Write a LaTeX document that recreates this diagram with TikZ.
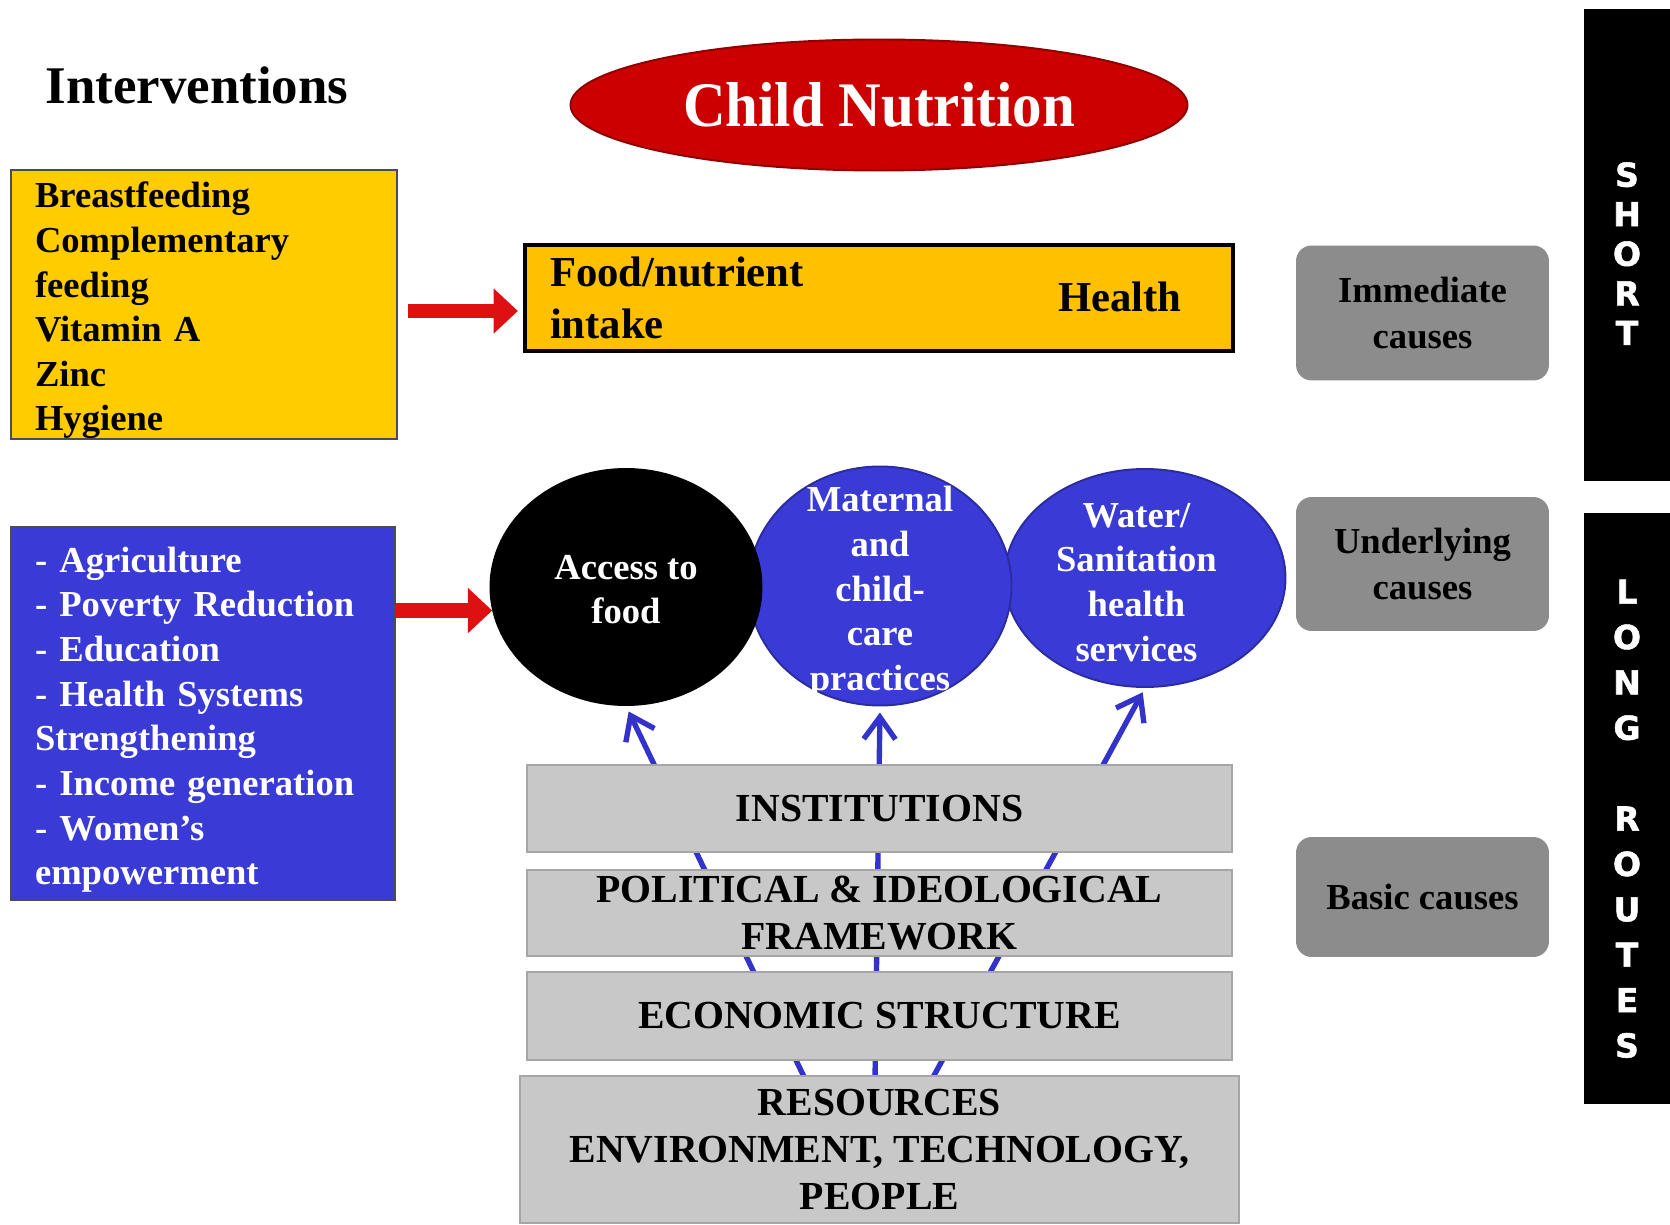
\documentclass[tikz,border=0pt]{standalone}
\usepackage{fontspec}
\usepackage{graphicx}
\setmainfont{Liberation Serif}
\newfontfamily\barfont[BoldFeatures={FakeBold=1.6}]{DejaVu Sans}
\usetikzlibrary{shapes.geometric,arrows.meta}
\newlength\pxu
\setlength\pxu{0.0144cm}
\definecolor{boxyellow}{HTML}{FFCC00}
\definecolor{foodyellow}{HTML}{FFC000}
\definecolor{ivblue}{HTML}{3A3AD6}
\definecolor{causegray}{HTML}{8C8C8C}
\definecolor{bargray}{HTML}{C8C8C8}
\definecolor{titlered}{HTML}{CC0000}
\definecolor{arrowred}{HTML}{DD1111}
\definecolor{linkblue}{HTML}{3333CC}

\begin{document}
\begin{tikzpicture}[x=0.0144cm, y=-0.0144cm,
  ivbox/.style={draw=black!70, line width=0.8pt, align=left, inner xsep=24*\pxu, inner ysep=0pt, text height=15.5pt, font=\bfseries\fontsize{15}{18.3}\selectfont},
  cause/.style={draw=black!45, fill=causegray, line width=0.8pt, rounded corners=6pt, minimum width=251*\pxu, align=center, font=\bfseries\fontsize{15}{18.5}\selectfont},
  route/.style={fill=black, minimum width=86*\pxu},
  routetext/.style={text=white, align=center, font=\barfont\bfseries\fontsize{13.5}{#1}\selectfont},
  factor/.style={ellipse, draw=#1!75!black, fill=#1, line width=0.8pt, inner sep=0pt},
  factortext/.style={text=white, align=center, font=\bfseries\fontsize{15}{18.3}\selectfont},
  layer/.style={draw=black!35, fill=bargray, line width=0.8pt, minimum width=705*\pxu, align=center, inner ysep=0pt, font=\bfseries\fontsize{16.3}{19.3}\selectfont},
  redarrow/.style={draw=arrowred, line width=6pt, -{Triangle[length=10pt,width=18pt]}},
  uparrow/.style={draw=linkblue, line width=2.2pt, -{Straight Barb[length=9pt,width=13pt]}}
]
\useasboundingbox (0,0) rectangle (1670,1225);

\node[font=\bfseries\fontsize{21.7}{24}\selectfont] (title) at (197,85) {Interventions};
\node[ellipse, fill=titlered, draw=titlered!70!black, line width=0.8pt, minimum width=617*\pxu, minimum height=131*\pxu, inner sep=0pt, text=white, font=\bfseries\fontsize{26}{28}\selectfont] (child) at (879,105) {\scalebox{0.93}[1]{Child Nutrition}};

\node[ivbox, fill=boxyellow, text width=338*\pxu, minimum height=269*\pxu] (micro) at (204,304.5) {Breastfeeding\\Complementary\\feeding\\Vitamin A\\Zinc\\Hygiene};
\node[draw=black, line width=1.8pt, fill=foodyellow, minimum height=106*\pxu, text width=658*\pxu, inner xsep=25*\pxu, align=left, font=\bfseries\fontsize{17.5}{21.3}\selectfont] (food) at (879,298) {Food/nutrient\\intake};
\node[anchor=east, inner sep=0pt, font=\bfseries\fontsize{17.5}{21.3}\selectfont] (health) at (1182,297) {Health};
\draw[redarrow, shorten <=4pt, shorten >=2pt] ([yshift=-6.5*\pxu]micro.east) -- ([yshift=-6.5*\pxu]micro.east -| food.west);

\node[cause, minimum height=133*\pxu] (immediate) at (1422.5,313) {Immediate\\causes};
\node[cause, minimum height=132*\pxu] (underlying) at (1422.5,564) {Underlying\\causes};
\node[cause, minimum height=118*\pxu] (basic) at (1422.5,897) {Basic causes};

\node[route, minimum height=472*\pxu, label={[routetext=16.2pt, name=shorttext, yshift=-3.5pt]center:S\\H\\O\\R\\T}] (short) at (1627,245) {};
\node[route, minimum height=591*\pxu, label={[routetext=18.6pt, name=longtext, yshift=-4.2pt]center:L\\O\\N\\G\\[18.6pt]R\\O\\U\\T\\E\\S}] (long) at (1627,808.5) {};

\node[ivbox, fill=ivblue, text=white, text width=336*\pxu, minimum height=373*\pxu] (policy) at (203,713.5) {- Agriculture\\- Poverty Reduction\\- Education\\- Health Systems\\Strengthening\\- Income generation\\- Women’s\\empowerment};

\node[factor=ivblue, minimum width=281*\pxu, minimum height=218*\pxu, label={[factortext, name=watertext, xshift=-3.5pt, yshift=-1.8pt]center:Water/\\Sanitation\\health\\services}] (water) at (1145,578) {};
\node[factor=ivblue, minimum width=263*\pxu, minimum height=239*\pxu, label={[factortext, name=maternaltext, yshift=-2.6pt]center:Maternal\\and\\child-\\care\\practices}] (maternal) at (880,586) {};
\node[factor=black, minimum width=271*\pxu, minimum height=236*\pxu, label={[factortext, name=accesstext, yshift=-1pt]center:Access to\\food}] (access) at (626,587) {};
\draw[redarrow] (policy.east |- access.190) -- (access.190);

\coordinate (rootleft) at (806,1081);
\coordinate (rootmid) at (875,1081);
\coordinate (rootright) at (931,1081);
\draw[uparrow, shorten >=2.5pt] (rootleft) -- (access.south);
\draw[uparrow, shorten >=2.5pt] (rootmid) -- (maternal.south);
\draw[uparrow, shorten >=2pt] (rootright) -- (water.south);

\node[layer, minimum height=87*\pxu] (institutions) at (879.5,808.5) {INSTITUTIONS};
\node[layer, minimum height=86*\pxu] (political) at (879.5,913) {POLITICAL \& IDEOLOGICAL\\FRAMEWORK};
\node[layer, minimum height=88*\pxu] (economic) at (879.5,1016) {ECONOMIC STRUCTURE};
\node[layer, minimum width=719*\pxu, minimum height=147*\pxu] (resources) at (879.5,1149.5) {RESOURCES\\ENVIRONMENT, TECHNOLOGY,\\PEOPLE};
\end{tikzpicture}
\end{document}
